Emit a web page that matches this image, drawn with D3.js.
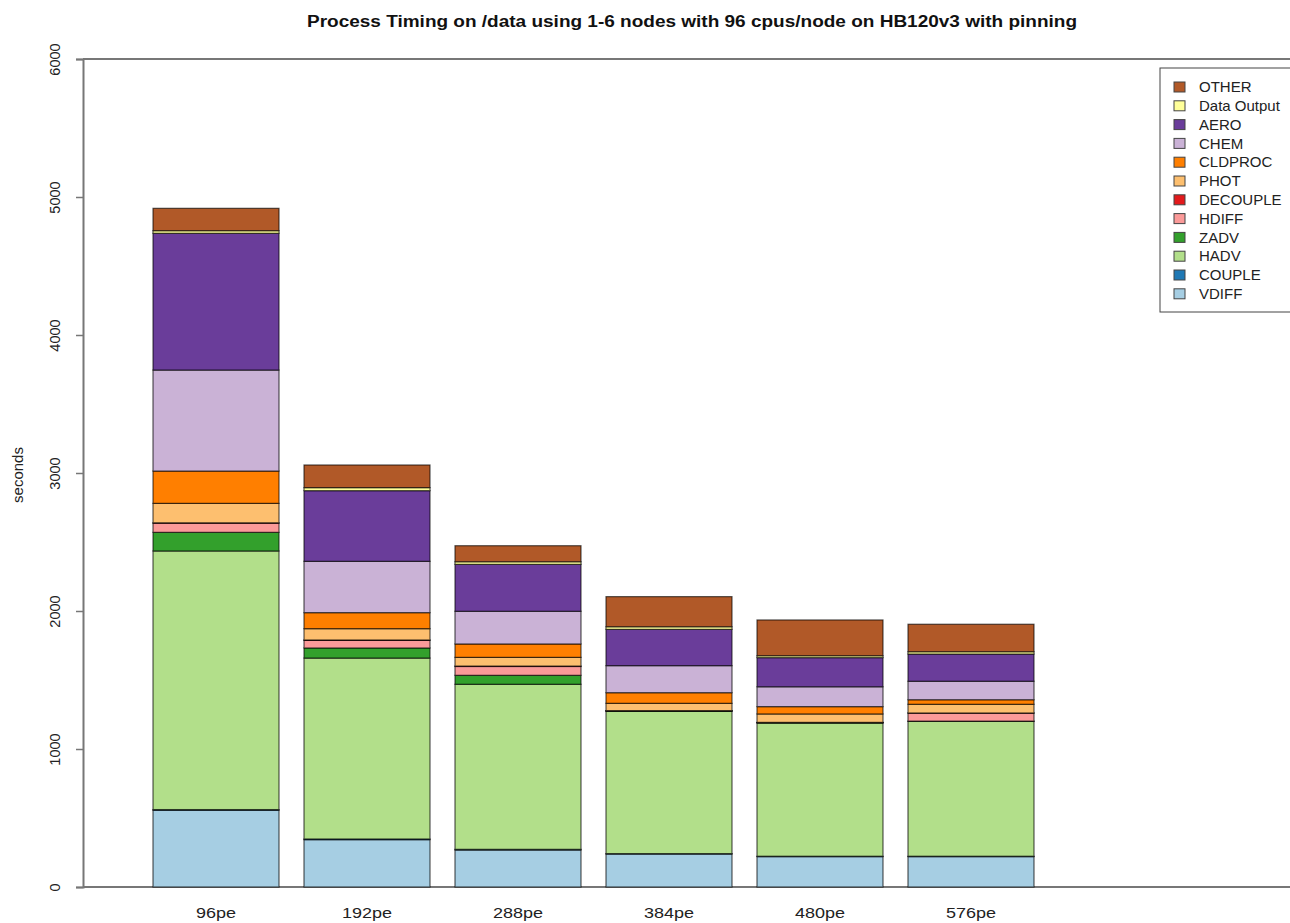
<!DOCTYPE html>
<html>
<head>
<meta charset="utf-8">
<script src="https://cdn.jsdelivr.net/npm/d3@7"></script>
<style>
  html, body { margin: 0; padding: 0; background: #fff; }
  svg { display: block; font-family: "Liberation Sans", Arial, Helvetica, sans-serif; }
</style>
</head>
<body>
<svg id="chart" width="1290" height="923"></svg>
<script>
// ---- data ----
const categories = ["96pe", "192pe", "288pe", "384pe", "480pe", "576pe"];
const VDIFF      = [556, 343, 268, 239, 220, 220];
const COUPLE     = [5, 5, 5, 3, 3, 3];
const HADV       = [1874, 1311, 1196, 1031, 965, 977];
const ZADV       = [135, 73, 65, 2, 2, 2];
const HDIFF      = [66, 55, 64, 2, 2, 58];
const DECOUPLE   = [3, 3, 3, 1, 1, 1];
const PHOT       = [141, 82, 63, 53, 61, 63];
const CLDPROC    = [234, 116, 97, 77, 53, 33];
const CHEM       = [732, 372, 237, 196, 144, 134];
const AERO       = [991, 512, 340, 263, 211, 197];
const DataOutput = [19, 22, 19, 19, 14, 17];
const OTHER      = [162, 164, 116, 218, 259, 199];
const seriesNames = ["VDIFF", "COUPLE", "HADV", "ZADV", "HDIFF", "DECOUPLE", "PHOT", "CLDPROC", "CHEM", "AERO", "Data Output", "OTHER"];
const seriesValues = [VDIFF, COUPLE, HADV, ZADV, HDIFF, DECOUPLE, PHOT, CLDPROC, CHEM, AERO, DataOutput, OTHER];
const seriesColors = ["#A6CEE3", "#1F78B4", "#B2DF8A", "#33A02C", "#FB9A99", "#E31A1C", "#FDBF6F", "#FF7F00", "#CAB2D6", "#6A3D9A", "#FFFF99", "#B15928"];
const yTicks = [0, 1000, 2000, 3000, 4000, 5000, 6000];
const title = "Process Timing on /data using 1-6 nodes with 96 cpus/node on HB120v3 with pinning";

// ---- table for stack ----
const table = categories.map((c, i) => {
  const row = { cat: c };
  seriesNames.forEach((s, j) => row[s] = seriesValues[j][i]);
  return row;
});
const stacked = d3.stack().keys(seriesNames)(table);

const svg = d3.select("#chart");
const y = d3.scaleLinear().domain([0, 6000]).range([887, 59]);
const x = d3.scaleBand().domain(categories).range([140.5, 1046.5]).paddingInner(25 / 151).paddingOuter(0.0828);
const color = d3.scaleOrdinal().domain(seriesNames).range(seriesColors);

// plot frame lines (cropped box)
svg.append("line").attr("x1", 83).attr("x2", 1290).attr("y1", y(6000)).attr("y2", y(6000))
  .attr("stroke", "#777").attr("stroke-width", 2);
svg.append("line").attr("x1", 83).attr("x2", 1290).attr("y1", y(0)).attr("y2", y(0))
  .attr("stroke", "#777").attr("stroke-width", 2);

// bars
svg.append("g").selectAll("g").data(stacked).join("g")
  .attr("fill", d => color(d.key))
  .selectAll("rect").data(d => d).join("rect")
  .attr("x", d => x(d.data.cat))
  .attr("width", x.bandwidth())
  .attr("y", d => y(d[1]))
  .attr("height", d => Math.max(0, y(d[0]) - y(d[1])))
  .attr("stroke", "#000")
  .attr("stroke-opacity", 0.65)
  .attr("stroke-width", 1.2);

// y axis
const yAxis = d3.axisLeft(y).tickValues(yTicks).tickSize(7).tickFormat(d3.format("d"));
const gy = svg.append("g").attr("transform", "translate(83,0)").call(yAxis);
gy.select(".domain").attr("stroke", "#777").attr("stroke-width", 2);
gy.selectAll(".tick line").attr("stroke", "#777").attr("stroke-width", 1.5);
gy.selectAll(".tick text")
  .attr("font-size", 14.5).attr("fill", "#222")
  .attr("x", null).attr("dy", null)
  .attr("text-anchor", "middle")
  .attr("transform", "translate(-28,0) rotate(-90)")
  .attr("y", 0).attr("dy", "0.35em");

// x labels
const xAxis = d3.axisBottom(x).tickSize(0).tickPadding(0);
const gx = svg.append("g").attr("transform", "translate(0,887)").call(xAxis);
gx.select(".domain").remove();
gx.selectAll(".tick text").attr("font-size", 15).attr("fill", "#222")
  .attr("y", 0).attr("dy", "0.35em")
  .attr("transform", "translate(0,26) scale(1.2,1)");

// y title
svg.append("text").attr("transform", "translate(18,475) rotate(-90)")
  .attr("text-anchor", "middle").attr("dy", "0.35em")
  .attr("font-size", 15).attr("fill", "#222").text("seconds");

// main title
svg.append("text").attr("x", 692).attr("y", 21).attr("text-anchor", "middle").attr("dy", "0.35em")
  .attr("font-size", 16).attr("font-weight", "bold").attr("fill", "#111")
  .attr("textLength", 770).attr("lengthAdjust", "spacingAndGlyphs")
  .text(title);

// legend
const legendOrder = seriesNames.slice().reverse();
const lg = svg.append("g");
lg.append("rect").attr("x", 1160).attr("y", 68).attr("width", 140).attr("height", 244)
  .attr("fill", "#fff").attr("stroke", "#444").attr("stroke-width", 1);
const items = lg.selectAll("g.item").data(legendOrder).join("g").attr("class", "item")
  .attr("transform", (d, i) => `translate(0,${87 + i * 18.8})`);
items.append("rect").attr("x", 1174).attr("y", -5).attr("width", 11).attr("height", 10)
  .attr("fill", d => color(d)).attr("stroke", "#444").attr("stroke-width", 1);
items.append("text").attr("x", 1199).attr("y", 0).attr("dy", "0.35em")
  .attr("font-size", 15).attr("fill", "#222").text(d => d);
</script>
</body>
</html>
